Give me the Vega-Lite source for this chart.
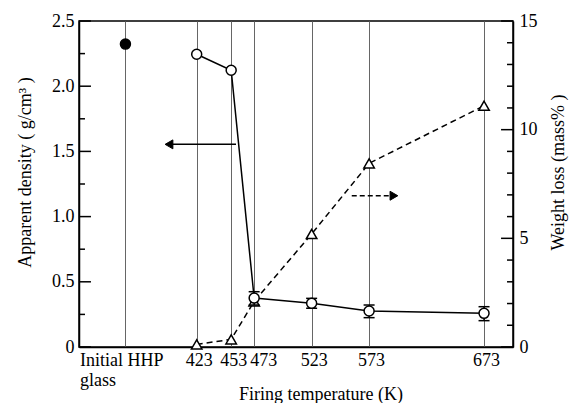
{
  "$schema": "https://vega.github.io/schema/vega-lite/v6.json",
  "width": 434,
  "height": 326,
  "autosize": {"type": "none"},
  "padding": {"left": 79, "top": 21, "right": 60, "bottom": 56},
  "background": "white",
  "config": {
    "font": "Liberation Serif",
    "view": {"stroke": "black", "strokeWidth": 1.5},
    "axis": {"labelFont": "Liberation Serif", "titleFont": "Liberation Serif", "labelFontSize": 18, "titleFontSize": 18, "titleFontWeight": "normal", "labelColor": "black", "titleColor": "black", "domainColor": "black", "domainWidth": 1.5, "labelOverlap": false, "labelBound": false, "labelFlush": false}
  },
  "datasets": {
    "density": [
      {"T": 361, "d": 2.323, "kind": "filled"},
      {"T": 423, "d": 2.245, "kind": "open"},
      {"T": 453, "d": 2.122, "kind": "open"},
      {"T": 473, "d": 0.375, "kind": "open"},
      {"T": 523, "d": 0.335, "kind": "open"},
      {"T": 573, "d": 0.276, "kind": "open"},
      {"T": 673, "d": 0.258, "kind": "open"}
    ],
    "errors": [
      {"T": 473, "lo": 0.322, "hi": 0.424},
      {"T": 523, "lo": 0.297, "hi": 0.373},
      {"T": 573, "lo": 0.225, "hi": 0.322},
      {"T": 673, "lo": 0.202, "hi": 0.309}
    ],
    "weight": [
      {"T": 423, "w": 0.12},
      {"T": 453, "w": 0.35},
      {"T": 473, "w": 2.1},
      {"T": 523, "w": 5.2},
      {"T": 573, "w": 8.45},
      {"T": 673, "w": 11.1}
    ],
    "dticks": [
      {"v": 0, "k": "major"}, {"v": 0.25, "k": "minor"}, {"v": 0.5, "k": "major"}, {"v": 0.75, "k": "minor"}, {"v": 1, "k": "major"}, {"v": 1.25, "k": "minor"}, {"v": 1.5, "k": "major"}, {"v": 1.75, "k": "minor"}, {"v": 2, "k": "major"}, {"v": 2.25, "k": "minor"}, {"v": 2.5, "k": "major"}
    ],
    "wticks": [
      {"v": 0, "k": "major"}, {"v": 1, "k": "minor"}, {"v": 2, "k": "minor"}, {"v": 3, "k": "minor"}, {"v": 4, "k": "minor"}, {"v": 5, "k": "major"}, {"v": 6, "k": "minor"}, {"v": 7, "k": "minor"}, {"v": 8, "k": "minor"}, {"v": 9, "k": "minor"}, {"v": 10, "k": "major"}, {"v": 11, "k": "minor"}, {"v": 12, "k": "minor"}, {"v": 13, "k": "minor"}, {"v": 14, "k": "minor"}, {"v": 15, "k": "major"}
    ],
    "arrowLeft": [{"x1": 398.9, "x2": 457.2, "y": 1.554}],
    "arrowRight": [{"x1": 557.9, "x2": 594.6, "y": 6.96}]
  },
  "layer": [
    {
      "layer": [
        {
          "data": {"name": "wticks"},
          "transform": [{"filter": "datum.k == 'major'"}],
          "mark": {"type": "rule", "color": "black", "strokeWidth": 1.5},
          "encoding": {
            "x": {"datum": 687.8, "type": "quantitative", "scale": {"domain": [320.6, 698.2], "nice": false, "zero": false},
              "axis": {"values": [361, 423, 453, 473, 523, 573, 673], "labelExpr": "datum.value == 361 ? ['Initial HHP', 'glass'] : toString(datum.value)", "labelAlign": {"condition": {"test": "datum.value == 361", "value": "left"}, "value": "center"}, "labelOffset": {"condition": [{"test": "datum.value == 361", "value": -46}, {"test": "datum.value == 473", "value": 9}], "value": 2}, "labelPadding": 4, "labelLineHeight": 20, "labelFont": "Liberation Serif", "labelFontSize": 18, "labelColor": "black", "ticks": false, "grid": true, "gridColor": "#666666", "gridWidth": 1, "title": "Firing temperature (K)", "titleFont": "Liberation Serif", "titleFontSize": 18, "titleFontWeight": "normal", "titleColor": "black", "titleX": 241.5, "titleY": 52, "titleAlign": "center", "titleBaseline": "alphabetic"}},
            "x2": {"datum": 698.2},
            "y": {"field": "v", "type": "quantitative", "scale": {"domain": [0, 15], "nice": false},
              "axis": {"orient": "right", "ticks": false, "values": [0, 5, 10, 15], "labelPadding": 6, "labelFont": "Liberation Serif", "labelFontSize": 18, "labelColor": "black", "grid": false, "title": "Weight loss (mass% )", "titleFont": "Liberation Serif", "titleFontSize": 18, "titleFontWeight": "normal", "titleColor": "black", "titleAngle": 270, "titleX": 45, "titleY": 151, "titleAlign": "center", "titleBaseline": "middle"}}
          }
        },
        {
          "data": {"name": "wticks"},
          "transform": [{"filter": "datum.k == 'minor'"}],
          "mark": {"type": "rule", "color": "black", "strokeWidth": 1.5},
          "encoding": {
            "x": {"datum": 693.0, "type": "quantitative", "scale": {"domain": [320.6, 698.2], "nice": false, "zero": false},
              "axis": {"values": [361, 423, 453, 473, 523, 573, 673], "labelExpr": "datum.value == 361 ? ['Initial HHP', 'glass'] : toString(datum.value)", "labelAlign": {"condition": {"test": "datum.value == 361", "value": "left"}, "value": "center"}, "labelOffset": {"condition": [{"test": "datum.value == 361", "value": -46}, {"test": "datum.value == 473", "value": 9}], "value": 2}, "labelPadding": 4, "labelLineHeight": 20, "labelFont": "Liberation Serif", "labelFontSize": 18, "labelColor": "black", "ticks": false, "grid": true, "gridColor": "#666666", "gridWidth": 1, "title": "Firing temperature (K)", "titleFont": "Liberation Serif", "titleFontSize": 18, "titleFontWeight": "normal", "titleColor": "black", "titleX": 241.5, "titleY": 52, "titleAlign": "center", "titleBaseline": "alphabetic"}},
            "x2": {"datum": 698.2},
            "y": {"field": "v", "type": "quantitative", "scale": {"domain": [0, 15], "nice": false},
              "axis": {"orient": "right", "ticks": false, "values": [0, 5, 10, 15], "labelPadding": 6, "labelFont": "Liberation Serif", "labelFontSize": 18, "labelColor": "black", "grid": false, "title": "Weight loss (mass% )", "titleFont": "Liberation Serif", "titleFontSize": 18, "titleFontWeight": "normal", "titleColor": "black", "titleAngle": 270, "titleX": 45, "titleY": 151, "titleAlign": "center", "titleBaseline": "middle"}}
          }
        },
        {
          "data": {"name": "weight"},
          "mark": {"type": "line", "color": "black", "strokeWidth": 1.5, "strokeDash": [6, 4]},
          "encoding": {
            "x": {"field": "T", "type": "quantitative", "scale": {"domain": [320.6, 698.2], "nice": false, "zero": false},
              "axis": {"values": [361, 423, 453, 473, 523, 573, 673], "labelExpr": "datum.value == 361 ? ['Initial HHP', 'glass'] : toString(datum.value)", "labelAlign": {"condition": {"test": "datum.value == 361", "value": "left"}, "value": "center"}, "labelOffset": {"condition": [{"test": "datum.value == 361", "value": -46}, {"test": "datum.value == 473", "value": 9}], "value": 2}, "labelPadding": 4, "labelLineHeight": 20, "labelFont": "Liberation Serif", "labelFontSize": 18, "labelColor": "black", "ticks": false, "grid": true, "gridColor": "#666666", "gridWidth": 1, "title": "Firing temperature (K)", "titleFont": "Liberation Serif", "titleFontSize": 18, "titleFontWeight": "normal", "titleColor": "black", "titleX": 241.5, "titleY": 52, "titleAlign": "center", "titleBaseline": "alphabetic"}},
            "y": {"field": "w", "type": "quantitative", "scale": {"domain": [0, 15], "nice": false},
              "axis": {"orient": "right", "ticks": false, "values": [0, 5, 10, 15], "labelPadding": 6, "labelFont": "Liberation Serif", "labelFontSize": 18, "labelColor": "black", "grid": false, "title": "Weight loss (mass% )", "titleFont": "Liberation Serif", "titleFontSize": 18, "titleFontWeight": "normal", "titleColor": "black", "titleAngle": 270, "titleX": 45, "titleY": 151, "titleAlign": "center", "titleBaseline": "middle"}}
          }
        },
        {
          "data": {"name": "weight"},
          "mark": {"type": "point", "shape": "triangle-up", "filled": true, "fill": "white", "stroke": "black", "strokeWidth": 1.5, "size": 110, "opacity": 1},
          "encoding": {
            "x": {"field": "T", "type": "quantitative", "scale": {"domain": [320.6, 698.2], "nice": false, "zero": false},
              "axis": {"values": [361, 423, 453, 473, 523, 573, 673], "labelExpr": "datum.value == 361 ? ['Initial HHP', 'glass'] : toString(datum.value)", "labelAlign": {"condition": {"test": "datum.value == 361", "value": "left"}, "value": "center"}, "labelOffset": {"condition": [{"test": "datum.value == 361", "value": -46}, {"test": "datum.value == 473", "value": 9}], "value": 2}, "labelPadding": 4, "labelLineHeight": 20, "labelFont": "Liberation Serif", "labelFontSize": 18, "labelColor": "black", "ticks": false, "grid": true, "gridColor": "#666666", "gridWidth": 1, "title": "Firing temperature (K)", "titleFont": "Liberation Serif", "titleFontSize": 18, "titleFontWeight": "normal", "titleColor": "black", "titleX": 241.5, "titleY": 52, "titleAlign": "center", "titleBaseline": "alphabetic"}},
            "y": {"field": "w", "type": "quantitative", "scale": {"domain": [0, 15], "nice": false},
              "axis": {"orient": "right", "ticks": false, "values": [0, 5, 10, 15], "labelPadding": 6, "labelFont": "Liberation Serif", "labelFontSize": 18, "labelColor": "black", "grid": false, "title": "Weight loss (mass% )", "titleFont": "Liberation Serif", "titleFontSize": 18, "titleFontWeight": "normal", "titleColor": "black", "titleAngle": 270, "titleX": 45, "titleY": 151, "titleAlign": "center", "titleBaseline": "middle"}}
          }
        },
        {
          "data": {"name": "arrowRight"},
          "mark": {"type": "rule", "color": "black", "strokeWidth": 1.5, "strokeDash": [5, 3]},
          "encoding": {
            "x": {"field": "x1", "type": "quantitative", "scale": {"domain": [320.6, 698.2], "nice": false, "zero": false},
              "axis": {"values": [361, 423, 453, 473, 523, 573, 673], "labelExpr": "datum.value == 361 ? ['Initial HHP', 'glass'] : toString(datum.value)", "labelAlign": {"condition": {"test": "datum.value == 361", "value": "left"}, "value": "center"}, "labelOffset": {"condition": [{"test": "datum.value == 361", "value": -46}, {"test": "datum.value == 473", "value": 9}], "value": 2}, "labelPadding": 4, "labelLineHeight": 20, "labelFont": "Liberation Serif", "labelFontSize": 18, "labelColor": "black", "ticks": false, "grid": true, "gridColor": "#666666", "gridWidth": 1, "title": "Firing temperature (K)", "titleFont": "Liberation Serif", "titleFontSize": 18, "titleFontWeight": "normal", "titleColor": "black", "titleX": 241.5, "titleY": 52, "titleAlign": "center", "titleBaseline": "alphabetic"}},
            "x2": {"field": "x2"},
            "y": {"field": "y", "type": "quantitative", "scale": {"domain": [0, 15], "nice": false},
              "axis": {"orient": "right", "ticks": false, "values": [0, 5, 10, 15], "labelPadding": 6, "labelFont": "Liberation Serif", "labelFontSize": 18, "labelColor": "black", "grid": false, "title": "Weight loss (mass% )", "titleFont": "Liberation Serif", "titleFontSize": 18, "titleFontWeight": "normal", "titleColor": "black", "titleAngle": 270, "titleX": 45, "titleY": 151, "titleAlign": "center", "titleBaseline": "middle"}}
          }
        },
        {
          "data": {"name": "arrowRight"},
          "mark": {"type": "point", "shape": "triangle-right", "filled": true, "fill": "black", "stroke": "black", "strokeWidth": 1, "size": 80, "opacity": 1},
          "encoding": {
            "x": {"field": "x2", "type": "quantitative", "scale": {"domain": [320.6, 698.2], "nice": false, "zero": false},
              "axis": {"values": [361, 423, 453, 473, 523, 573, 673], "labelExpr": "datum.value == 361 ? ['Initial HHP', 'glass'] : toString(datum.value)", "labelAlign": {"condition": {"test": "datum.value == 361", "value": "left"}, "value": "center"}, "labelOffset": {"condition": [{"test": "datum.value == 361", "value": -46}, {"test": "datum.value == 473", "value": 9}], "value": 2}, "labelPadding": 4, "labelLineHeight": 20, "labelFont": "Liberation Serif", "labelFontSize": 18, "labelColor": "black", "ticks": false, "grid": true, "gridColor": "#666666", "gridWidth": 1, "title": "Firing temperature (K)", "titleFont": "Liberation Serif", "titleFontSize": 18, "titleFontWeight": "normal", "titleColor": "black", "titleX": 241.5, "titleY": 52, "titleAlign": "center", "titleBaseline": "alphabetic"}},
            "y": {"field": "y", "type": "quantitative", "scale": {"domain": [0, 15], "nice": false},
              "axis": {"orient": "right", "ticks": false, "values": [0, 5, 10, 15], "labelPadding": 6, "labelFont": "Liberation Serif", "labelFontSize": 18, "labelColor": "black", "grid": false, "title": "Weight loss (mass% )", "titleFont": "Liberation Serif", "titleFontSize": 18, "titleFontWeight": "normal", "titleColor": "black", "titleAngle": 270, "titleX": 45, "titleY": 151, "titleAlign": "center", "titleBaseline": "middle"}}
          }
        }
      ]
    },
    {
      "layer": [
        {
          "data": {"name": "dticks"},
          "transform": [{"filter": "datum.k == 'major'"}],
          "mark": {"type": "rule", "color": "black", "strokeWidth": 1.5},
          "encoding": {
            "x": {"datum": 320.6, "type": "quantitative", "scale": {"domain": [320.6, 698.2], "nice": false, "zero": false},
              "axis": {"values": [361, 423, 453, 473, 523, 573, 673], "labelExpr": "datum.value == 361 ? ['Initial HHP', 'glass'] : toString(datum.value)", "labelAlign": {"condition": {"test": "datum.value == 361", "value": "left"}, "value": "center"}, "labelOffset": {"condition": [{"test": "datum.value == 361", "value": -46}, {"test": "datum.value == 473", "value": 9}], "value": 2}, "labelPadding": 4, "labelLineHeight": 20, "labelFont": "Liberation Serif", "labelFontSize": 18, "labelColor": "black", "ticks": false, "grid": true, "gridColor": "#666666", "gridWidth": 1, "title": "Firing temperature (K)", "titleFont": "Liberation Serif", "titleFontSize": 18, "titleFontWeight": "normal", "titleColor": "black", "titleX": 241.5, "titleY": 52, "titleAlign": "center", "titleBaseline": "alphabetic"}},
            "x2": {"datum": 331.0},
            "y": {"field": "v", "type": "quantitative", "scale": {"domain": [0, 2.5], "nice": false},
              "axis": {"orient": "left", "ticks": false, "values": [0, 0.5, 1, 1.5, 2, 2.5], "labelExpr": "datum.value == 0 ? '0' : format(datum.value, '.1f')", "labelPadding": 5, "labelFont": "Liberation Serif", "labelFontSize": 18, "labelColor": "black", "grid": false, "title": "Apparent density ( g/cm³ )", "titleFont": "Liberation Serif", "titleFontSize": 18, "titleFontWeight": "normal", "titleColor": "black", "titleAngle": -90, "titleX": -54, "titleY": 151, "titleAlign": "center", "titleBaseline": "middle"}}
          }
        },
        {
          "data": {"name": "dticks"},
          "transform": [{"filter": "datum.k == 'minor'"}],
          "mark": {"type": "rule", "color": "black", "strokeWidth": 1.5},
          "encoding": {
            "x": {"datum": 320.6, "type": "quantitative", "scale": {"domain": [320.6, 698.2], "nice": false, "zero": false},
              "axis": {"values": [361, 423, 453, 473, 523, 573, 673], "labelExpr": "datum.value == 361 ? ['Initial HHP', 'glass'] : toString(datum.value)", "labelAlign": {"condition": {"test": "datum.value == 361", "value": "left"}, "value": "center"}, "labelOffset": {"condition": [{"test": "datum.value == 361", "value": -46}, {"test": "datum.value == 473", "value": 9}], "value": 2}, "labelPadding": 4, "labelLineHeight": 20, "labelFont": "Liberation Serif", "labelFontSize": 18, "labelColor": "black", "ticks": false, "grid": true, "gridColor": "#666666", "gridWidth": 1, "title": "Firing temperature (K)", "titleFont": "Liberation Serif", "titleFontSize": 18, "titleFontWeight": "normal", "titleColor": "black", "titleX": 241.5, "titleY": 52, "titleAlign": "center", "titleBaseline": "alphabetic"}},
            "x2": {"datum": 325.8},
            "y": {"field": "v", "type": "quantitative", "scale": {"domain": [0, 2.5], "nice": false},
              "axis": {"orient": "left", "ticks": false, "values": [0, 0.5, 1, 1.5, 2, 2.5], "labelExpr": "datum.value == 0 ? '0' : format(datum.value, '.1f')", "labelPadding": 5, "labelFont": "Liberation Serif", "labelFontSize": 18, "labelColor": "black", "grid": false, "title": "Apparent density ( g/cm³ )", "titleFont": "Liberation Serif", "titleFontSize": 18, "titleFontWeight": "normal", "titleColor": "black", "titleAngle": -90, "titleX": -54, "titleY": 151, "titleAlign": "center", "titleBaseline": "middle"}}
          }
        },
        {
          "data": {"name": "density"},
          "transform": [{"filter": "datum.T > 400"}],
          "mark": {"type": "line", "color": "black", "strokeWidth": 1.5},
          "encoding": {
            "x": {"field": "T", "type": "quantitative", "scale": {"domain": [320.6, 698.2], "nice": false, "zero": false},
              "axis": {"values": [361, 423, 453, 473, 523, 573, 673], "labelExpr": "datum.value == 361 ? ['Initial HHP', 'glass'] : toString(datum.value)", "labelAlign": {"condition": {"test": "datum.value == 361", "value": "left"}, "value": "center"}, "labelOffset": {"condition": [{"test": "datum.value == 361", "value": -46}, {"test": "datum.value == 473", "value": 9}], "value": 2}, "labelPadding": 4, "labelLineHeight": 20, "labelFont": "Liberation Serif", "labelFontSize": 18, "labelColor": "black", "ticks": false, "grid": true, "gridColor": "#666666", "gridWidth": 1, "title": "Firing temperature (K)", "titleFont": "Liberation Serif", "titleFontSize": 18, "titleFontWeight": "normal", "titleColor": "black", "titleX": 241.5, "titleY": 52, "titleAlign": "center", "titleBaseline": "alphabetic"}},
            "y": {"field": "d", "type": "quantitative", "scale": {"domain": [0, 2.5], "nice": false},
              "axis": {"orient": "left", "ticks": false, "values": [0, 0.5, 1, 1.5, 2, 2.5], "labelExpr": "datum.value == 0 ? '0' : format(datum.value, '.1f')", "labelPadding": 5, "labelFont": "Liberation Serif", "labelFontSize": 18, "labelColor": "black", "grid": false, "title": "Apparent density ( g/cm³ )", "titleFont": "Liberation Serif", "titleFontSize": 18, "titleFontWeight": "normal", "titleColor": "black", "titleAngle": -90, "titleX": -54, "titleY": 151, "titleAlign": "center", "titleBaseline": "middle"}}
          }
        },
        {
          "data": {"name": "errors"},
          "mark": {"type": "rule", "color": "black", "strokeWidth": 1.5},
          "encoding": {
            "x": {"field": "T", "type": "quantitative", "scale": {"domain": [320.6, 698.2], "nice": false, "zero": false},
              "axis": {"values": [361, 423, 453, 473, 523, 573, 673], "labelExpr": "datum.value == 361 ? ['Initial HHP', 'glass'] : toString(datum.value)", "labelAlign": {"condition": {"test": "datum.value == 361", "value": "left"}, "value": "center"}, "labelOffset": {"condition": [{"test": "datum.value == 361", "value": -46}, {"test": "datum.value == 473", "value": 9}], "value": 2}, "labelPadding": 4, "labelLineHeight": 20, "labelFont": "Liberation Serif", "labelFontSize": 18, "labelColor": "black", "ticks": false, "grid": true, "gridColor": "#666666", "gridWidth": 1, "title": "Firing temperature (K)", "titleFont": "Liberation Serif", "titleFontSize": 18, "titleFontWeight": "normal", "titleColor": "black", "titleX": 241.5, "titleY": 52, "titleAlign": "center", "titleBaseline": "alphabetic"}},
            "y": {"field": "lo", "type": "quantitative", "scale": {"domain": [0, 2.5], "nice": false},
              "axis": {"orient": "left", "ticks": false, "values": [0, 0.5, 1, 1.5, 2, 2.5], "labelExpr": "datum.value == 0 ? '0' : format(datum.value, '.1f')", "labelPadding": 5, "labelFont": "Liberation Serif", "labelFontSize": 18, "labelColor": "black", "grid": false, "title": "Apparent density ( g/cm³ )", "titleFont": "Liberation Serif", "titleFontSize": 18, "titleFontWeight": "normal", "titleColor": "black", "titleAngle": -90, "titleX": -54, "titleY": 151, "titleAlign": "center", "titleBaseline": "middle"}},
            "y2": {"field": "hi"}
          }
        },
        {
          "data": {"name": "errors"},
          "mark": {"type": "tick", "orient": "horizontal", "color": "black", "size": 11, "thickness": 1.5, "opacity": 1},
          "encoding": {
            "x": {"field": "T", "type": "quantitative", "scale": {"domain": [320.6, 698.2], "nice": false, "zero": false},
              "axis": {"values": [361, 423, 453, 473, 523, 573, 673], "labelExpr": "datum.value == 361 ? ['Initial HHP', 'glass'] : toString(datum.value)", "labelAlign": {"condition": {"test": "datum.value == 361", "value": "left"}, "value": "center"}, "labelOffset": {"condition": [{"test": "datum.value == 361", "value": -46}, {"test": "datum.value == 473", "value": 9}], "value": 2}, "labelPadding": 4, "labelLineHeight": 20, "labelFont": "Liberation Serif", "labelFontSize": 18, "labelColor": "black", "ticks": false, "grid": true, "gridColor": "#666666", "gridWidth": 1, "title": "Firing temperature (K)", "titleFont": "Liberation Serif", "titleFontSize": 18, "titleFontWeight": "normal", "titleColor": "black", "titleX": 241.5, "titleY": 52, "titleAlign": "center", "titleBaseline": "alphabetic"}},
            "y": {"field": "lo", "type": "quantitative", "scale": {"domain": [0, 2.5], "nice": false},
              "axis": {"orient": "left", "ticks": false, "values": [0, 0.5, 1, 1.5, 2, 2.5], "labelExpr": "datum.value == 0 ? '0' : format(datum.value, '.1f')", "labelPadding": 5, "labelFont": "Liberation Serif", "labelFontSize": 18, "labelColor": "black", "grid": false, "title": "Apparent density ( g/cm³ )", "titleFont": "Liberation Serif", "titleFontSize": 18, "titleFontWeight": "normal", "titleColor": "black", "titleAngle": -90, "titleX": -54, "titleY": 151, "titleAlign": "center", "titleBaseline": "middle"}}
          }
        },
        {
          "data": {"name": "errors"},
          "mark": {"type": "tick", "orient": "horizontal", "color": "black", "size": 11, "thickness": 1.5, "opacity": 1},
          "encoding": {
            "x": {"field": "T", "type": "quantitative", "scale": {"domain": [320.6, 698.2], "nice": false, "zero": false},
              "axis": {"values": [361, 423, 453, 473, 523, 573, 673], "labelExpr": "datum.value == 361 ? ['Initial HHP', 'glass'] : toString(datum.value)", "labelAlign": {"condition": {"test": "datum.value == 361", "value": "left"}, "value": "center"}, "labelOffset": {"condition": [{"test": "datum.value == 361", "value": -46}, {"test": "datum.value == 473", "value": 9}], "value": 2}, "labelPadding": 4, "labelLineHeight": 20, "labelFont": "Liberation Serif", "labelFontSize": 18, "labelColor": "black", "ticks": false, "grid": true, "gridColor": "#666666", "gridWidth": 1, "title": "Firing temperature (K)", "titleFont": "Liberation Serif", "titleFontSize": 18, "titleFontWeight": "normal", "titleColor": "black", "titleX": 241.5, "titleY": 52, "titleAlign": "center", "titleBaseline": "alphabetic"}},
            "y": {"field": "hi", "type": "quantitative", "scale": {"domain": [0, 2.5], "nice": false},
              "axis": {"orient": "left", "ticks": false, "values": [0, 0.5, 1, 1.5, 2, 2.5], "labelExpr": "datum.value == 0 ? '0' : format(datum.value, '.1f')", "labelPadding": 5, "labelFont": "Liberation Serif", "labelFontSize": 18, "labelColor": "black", "grid": false, "title": "Apparent density ( g/cm³ )", "titleFont": "Liberation Serif", "titleFontSize": 18, "titleFontWeight": "normal", "titleColor": "black", "titleAngle": -90, "titleX": -54, "titleY": 151, "titleAlign": "center", "titleBaseline": "middle"}}
          }
        },
        {
          "data": {"name": "density"},
          "mark": {"type": "point", "shape": "circle", "filled": true, "stroke": "black", "strokeWidth": 1.5, "size": 100, "opacity": 1},
          "encoding": {
            "x": {"field": "T", "type": "quantitative", "scale": {"domain": [320.6, 698.2], "nice": false, "zero": false},
              "axis": {"values": [361, 423, 453, 473, 523, 573, 673], "labelExpr": "datum.value == 361 ? ['Initial HHP', 'glass'] : toString(datum.value)", "labelAlign": {"condition": {"test": "datum.value == 361", "value": "left"}, "value": "center"}, "labelOffset": {"condition": [{"test": "datum.value == 361", "value": -46}, {"test": "datum.value == 473", "value": 9}], "value": 2}, "labelPadding": 4, "labelLineHeight": 20, "labelFont": "Liberation Serif", "labelFontSize": 18, "labelColor": "black", "ticks": false, "grid": true, "gridColor": "#666666", "gridWidth": 1, "title": "Firing temperature (K)", "titleFont": "Liberation Serif", "titleFontSize": 18, "titleFontWeight": "normal", "titleColor": "black", "titleX": 241.5, "titleY": 52, "titleAlign": "center", "titleBaseline": "alphabetic"}},
            "y": {"field": "d", "type": "quantitative", "scale": {"domain": [0, 2.5], "nice": false},
              "axis": {"orient": "left", "ticks": false, "values": [0, 0.5, 1, 1.5, 2, 2.5], "labelExpr": "datum.value == 0 ? '0' : format(datum.value, '.1f')", "labelPadding": 5, "labelFont": "Liberation Serif", "labelFontSize": 18, "labelColor": "black", "grid": false, "title": "Apparent density ( g/cm³ )", "titleFont": "Liberation Serif", "titleFontSize": 18, "titleFontWeight": "normal", "titleColor": "black", "titleAngle": -90, "titleX": -54, "titleY": 151, "titleAlign": "center", "titleBaseline": "middle"}},
            "fill": {"field": "kind", "type": "nominal", "scale": {"domain": ["open", "filled"], "range": ["white", "black"]}, "legend": null}
          }
        },
        {
          "data": {"name": "arrowLeft"},
          "mark": {"type": "rule", "color": "black", "strokeWidth": 1.5},
          "encoding": {
            "x": {"field": "x1", "type": "quantitative", "scale": {"domain": [320.6, 698.2], "nice": false, "zero": false},
              "axis": {"values": [361, 423, 453, 473, 523, 573, 673], "labelExpr": "datum.value == 361 ? ['Initial HHP', 'glass'] : toString(datum.value)", "labelAlign": {"condition": {"test": "datum.value == 361", "value": "left"}, "value": "center"}, "labelOffset": {"condition": [{"test": "datum.value == 361", "value": -46}, {"test": "datum.value == 473", "value": 9}], "value": 2}, "labelPadding": 4, "labelLineHeight": 20, "labelFont": "Liberation Serif", "labelFontSize": 18, "labelColor": "black", "ticks": false, "grid": true, "gridColor": "#666666", "gridWidth": 1, "title": "Firing temperature (K)", "titleFont": "Liberation Serif", "titleFontSize": 18, "titleFontWeight": "normal", "titleColor": "black", "titleX": 241.5, "titleY": 52, "titleAlign": "center", "titleBaseline": "alphabetic"}},
            "x2": {"field": "x2"},
            "y": {"field": "y", "type": "quantitative", "scale": {"domain": [0, 2.5], "nice": false},
              "axis": {"orient": "left", "ticks": false, "values": [0, 0.5, 1, 1.5, 2, 2.5], "labelExpr": "datum.value == 0 ? '0' : format(datum.value, '.1f')", "labelPadding": 5, "labelFont": "Liberation Serif", "labelFontSize": 18, "labelColor": "black", "grid": false, "title": "Apparent density ( g/cm³ )", "titleFont": "Liberation Serif", "titleFontSize": 18, "titleFontWeight": "normal", "titleColor": "black", "titleAngle": -90, "titleX": -54, "titleY": 151, "titleAlign": "center", "titleBaseline": "middle"}}
          }
        },
        {
          "data": {"name": "arrowLeft"},
          "mark": {"type": "point", "shape": "triangle-left", "filled": true, "fill": "black", "stroke": "black", "strokeWidth": 1, "size": 80, "opacity": 1},
          "encoding": {
            "x": {"field": "x1", "type": "quantitative", "scale": {"domain": [320.6, 698.2], "nice": false, "zero": false},
              "axis": {"values": [361, 423, 453, 473, 523, 573, 673], "labelExpr": "datum.value == 361 ? ['Initial HHP', 'glass'] : toString(datum.value)", "labelAlign": {"condition": {"test": "datum.value == 361", "value": "left"}, "value": "center"}, "labelOffset": {"condition": [{"test": "datum.value == 361", "value": -46}, {"test": "datum.value == 473", "value": 9}], "value": 2}, "labelPadding": 4, "labelLineHeight": 20, "labelFont": "Liberation Serif", "labelFontSize": 18, "labelColor": "black", "ticks": false, "grid": true, "gridColor": "#666666", "gridWidth": 1, "title": "Firing temperature (K)", "titleFont": "Liberation Serif", "titleFontSize": 18, "titleFontWeight": "normal", "titleColor": "black", "titleX": 241.5, "titleY": 52, "titleAlign": "center", "titleBaseline": "alphabetic"}},
            "y": {"field": "y", "type": "quantitative", "scale": {"domain": [0, 2.5], "nice": false},
              "axis": {"orient": "left", "ticks": false, "values": [0, 0.5, 1, 1.5, 2, 2.5], "labelExpr": "datum.value == 0 ? '0' : format(datum.value, '.1f')", "labelPadding": 5, "labelFont": "Liberation Serif", "labelFontSize": 18, "labelColor": "black", "grid": false, "title": "Apparent density ( g/cm³ )", "titleFont": "Liberation Serif", "titleFontSize": 18, "titleFontWeight": "normal", "titleColor": "black", "titleAngle": -90, "titleX": -54, "titleY": 151, "titleAlign": "center", "titleBaseline": "middle"}}
          }
        }
      ]
    }
  ],
  "resolve": {"scale": {"y": "independent"}}
}
